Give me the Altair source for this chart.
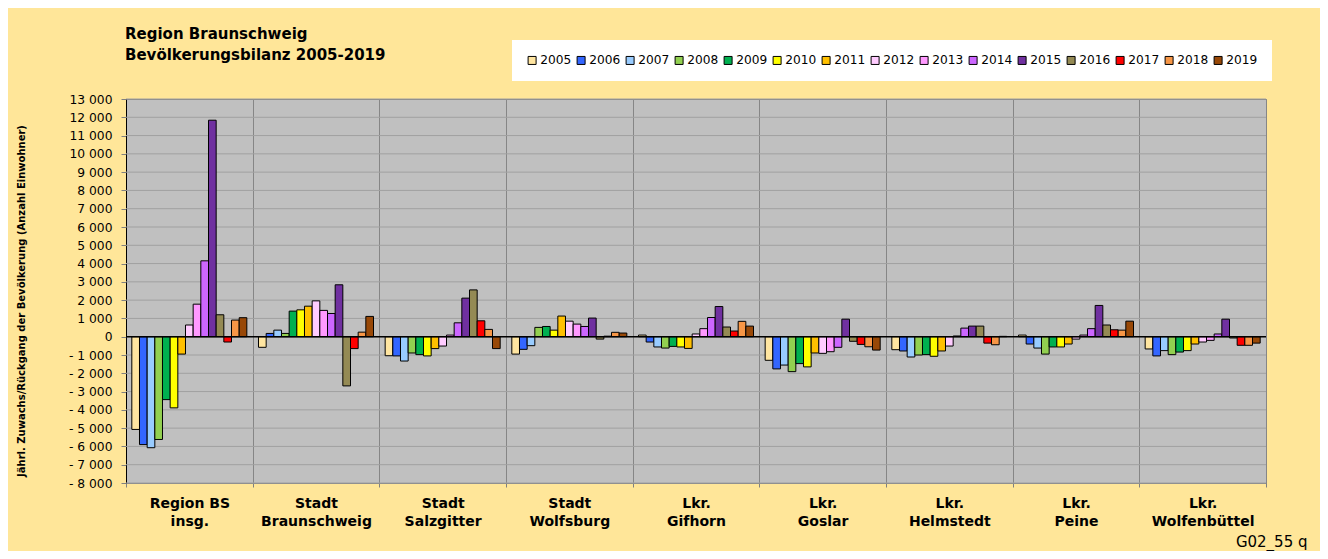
import altair as alt
import pandas as pd

regions = ["Region BS|insg.", "Stadt|Braunschweig", "Stadt|Salzgitter", "Stadt|Wolfsburg",
           "Lkr.|Gifhorn", "Lkr.|Goslar", "Lkr.|Helmstedt", "Lkr.|Peine", "Lkr.|Wolfenbüttel"]
years = ["2005", "2006", "2007", "2008", "2009", "2010", "2011", "2012", "2013",
         "2014", "2015", "2016", "2017", "2018", "2019"]
colors = ["#FFE5A0", "#3366FF", "#99CCFF", "#92D050", "#00B050", "#FFFF00", "#FFC000",
          "#FFCCFF", "#FF99FF", "#CC66FF", "#7030A0", "#948A54", "#FF0000", "#F79646", "#984807"]

region_bs = [-5070, -5900, -6070, -5620, -3440, -3890, -950, 640, 1780, 4150, 11840, 1200, -290, 910, 1040]
braunschweig = [-580, 180, 360, 180, 1400, 1470, 1670, 1960, 1440, 1270, 2840, -2690, -650, 250, 1110]
salzgitter = [-1040, -1050, -1330, -890, -980, -1050, -650, -510, 90, 760, 2110, 2560, 870, 400, -650]
wolfsburg = [-950, -690, -490, 510, 560, 360, 1130, 850, 690, 560, 1020, -130, 30, 240, 200]
gifhorn = [90, -290, -560, -620, -530, -560, -640, 150, 440, 1050, 1650, 530, 310, 840, 580]
goslar = [-1290, -1760, -1550, -1910, -1470, -1650, -890, -910, -820, -580, 960, -250, -420, -550, -730]
helmstedt = [-710, -780, -1110, -1000, -980, -1070, -780, -510, 40, 470, 580, 580, -350, -440, 20]
peine = [90, -400, -620, -950, -560, -560, -400, -130, 90, 440, 1710, 640, 380, 360, 850]
wolfenbuettel = [-670, -1050, -760, -980, -840, -760, -400, -290, -200, 150, 960, -70, -470, -470, -350]

series = [region_bs, braunschweig, salzgitter, wolfsburg, gifhorn, goslar, helmstedt, peine, wolfenbuettel]
y_ticks = [-8000, -7000, -6000, -5000, -4000, -3000, -2000, -1000, 0, 1000, 2000, 3000,
           4000, 5000, 6000, 7000, 8000, 9000, 10000, 11000, 12000, 13000]

rows = []
for reg, vals in zip(regions, series):
    for yr, v in zip(years, vals):
        rows.append({"region": reg, "year": yr, "value": v})
df = pd.DataFrame(rows)
grid_df = pd.DataFrame({"value": y_ticks})
zero_df = pd.DataFrame({"value": [0]})

FONT = "DejaVu Sans"

y_scale = alt.Scale(domain=[-8000, 13000], nice=False, zero=False)
y_axis = alt.Axis(title="Jährl. Zuwachs/Rückgang der Bevölkerung (Anzahl Einwohner)",
                  titleX=-101.5, titleY=201.5, titleAngle=-90, titleAlign="center",
                  titleBaseline="alphabetic", titleFont=FONT, titleFontSize=10,
                  titleFontWeight="bold", titleColor="black",
                  values=y_ticks, labelOverlap=False,
                  labelExpr="(datum.value < 0 ? '- ' : '') + replace(format(abs(datum.value), ','), ',', ' ')",
                  labelFont=FONT, labelFontSize=12.3, labelColor="black",
                  labelPadding=9, tickSize=5, tickColor="#808080",
                  grid=False, domainColor="black", domainWidth=1)
y_enc = alt.Y("value:Q", scale=y_scale, axis=y_axis)

grid = alt.Chart(grid_df).mark_rule(color="#A0A0A0", strokeWidth=1).encode(y=y_enc)

bars = alt.Chart(df).mark_bar(stroke="black", strokeWidth=1).encode(
    x=alt.X("region:N", sort=regions,
            scale=alt.Scale(paddingInner=0, paddingOuter=0),
            axis=alt.Axis(title="G02_55 q", titleX=1181, titleY=63, titleAlign="right",
                          titleBaseline="alphabetic", titleFontSize=15, titleFontWeight="normal",
                          titleFont=FONT, titleColor="black",
                          labelExpr="split(datum.label, '|')", labelAngle=0,
                          labelFont=FONT, labelFontSize=14, labelFontWeight="bold",
                          labelColor="black", labelLineHeight=18.7, labelPadding=9,
                          tickBand="extent", tickSize=4, tickColor="#808080",
                          grid=True, gridColor="#868686", gridWidth=1,
                          domainColor="#808080")),
    xOffset=alt.XOffset("year:N", sort=years,
                        scale=alt.Scale(paddingInner=0, paddingOuter=0.76)),
    y=y_enc,
    color=alt.Color("year:N", sort=years,
                    scale=alt.Scale(domain=years, range=colors),
                    legend=alt.Legend(title=None, orient="none", legendX=386, legendY=-59,
                                      direction="horizontal", columns=15,
                                      fillColor="white", padding=14, columnPadding=3,
                                      symbolType="square", symbolSize=64,
                                      symbolStrokeColor="black", symbolStrokeWidth=1,
                                      labelFont=FONT, labelFontSize=12.2, labelOffset=2,
                                      labelColor="black")),
)

zero = alt.Chart(zero_df).mark_rule(color="black", strokeWidth=1.5).encode(y=y_enc)

chart = alt.layer(grid, bars, zero).properties(
    width=1140, height=384,
    autosize=alt.AutoSizeParams(type="none"),
    padding={"left": 118, "top": 91, "right": 54, "bottom": 68},
    title=alt.TitleParams(text=["Region Braunschweig", "Bevölkerungsbilanz 2005-2019"],
                          anchor="start", frame="group", font=FONT, fontSize=15,
                          fontWeight="bold", lineHeight=20.7, baseline="bottom",
                          offset=-38, dx=-1, color="black"),
).configure(background="#FFE699").configure_view(fill="#C0C0C0", stroke="#808080")

chart.save("out.html", embed_options={"renderer": "svg", "actions": False})
